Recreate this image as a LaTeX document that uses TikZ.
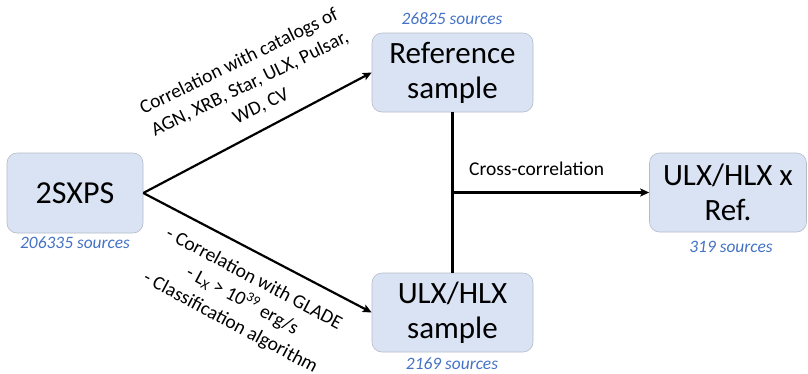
\documentclass[tikz,border=0pt]{standalone}
\usepackage{fontspec}
\setmainfont{Carlito}
\usetikzlibrary{arrows.meta}
\definecolor{boxfill}{HTML}{DAE3F3}
\definecolor{boxline}{HTML}{B4BCC8}
\definecolor{srcblue}{HTML}{4472C4}
\begin{document}
\begin{tikzpicture}[x=1pt,y=-1pt,
  box/.style={draw=boxline,line width=0.6pt,fill=boxfill,rounded corners=10pt,
    minimum width=161pt,minimum height=79pt,align=center,inner sep=0pt,
    font=\fontsize{31}{35}\selectfont},
  src/.style={font=\fontsize{17.4}{20}\selectfont\itshape,text=srcblue,inner sep=0pt},
  lab/.style={font=\fontsize{19.5}{25}\selectfont,align=center,inner sep=0pt},
  arr/.style={line width=2.2pt,-{Stealth[length=9pt,width=8pt,inset=2pt]}},
  ln/.style={line width=2.2pt}]
\useasboundingbox (0,0) rectangle (808,373);
\node[box,minimum width=136pt,minimum height=80pt,font=\fontsize{32}{38}\selectfont] (sx) at (75,193) {2SXPS};
\node[box] (ref) at (452.5,72.5) {Reference\\sample};
\node[box] (ulx) at (452.5,312.5) {ULX/HLX\\sample};
\node[box,minimum width=157pt] (res) at (728,192.5) {ULX/HLX x\\Ref.};
\node[src] (s1) at (75,243) {206335 sources};
\node[src] (s2) at (452,19) {26825 sources};
\node[src] (s3) at (452,364) {2169 sources};
\node[src] (s4) at (731,247) {319 sources};
\draw[arr] (sx.east) -- (ref.west);
\draw[arr] (sx.east) -- (ulx.west);
\draw[ln] (ref.south) -- (ulx.north);
\coordinate (j) at (ref.south |- res.west);
\draw[arr] (j) -- (res.west);
\node[lab,rotate=26] (l1) at (250,84) {Correlation with catalogs of\\AGN, XRB, Star, ULX, Pulsar,\\WD, CV};
\node[lab,rotate=-28] (l2) at (242,301) {- Correlation with GLADE\\- L\textsubscript{X} > 10\textsuperscript{39} erg/s\\- Classification algorithm};
\node[lab,anchor=west] (l3) at (469,169) {Cross-correlation};
\end{tikzpicture}
\end{document}
